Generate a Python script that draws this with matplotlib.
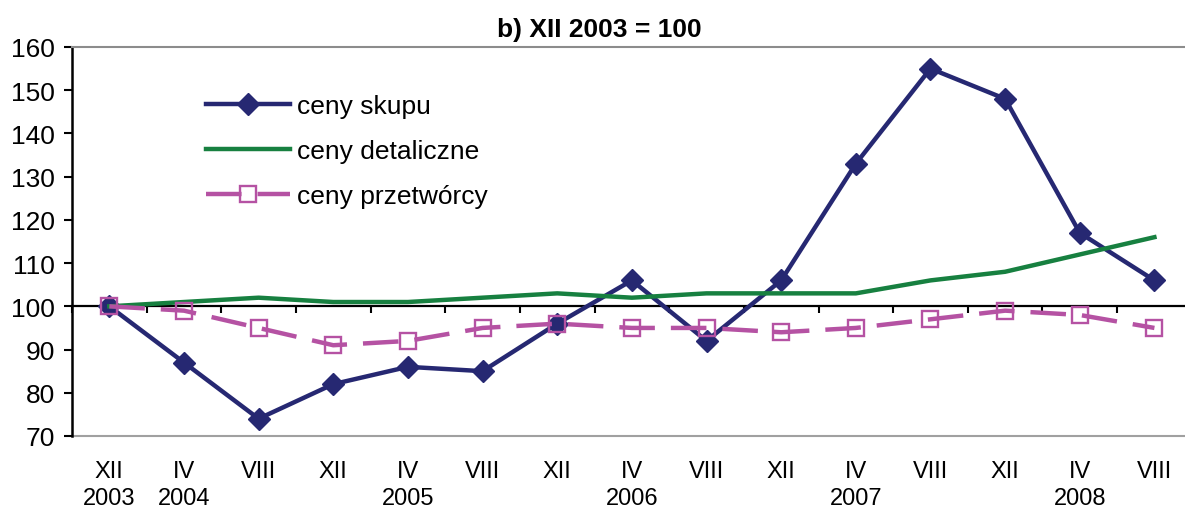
import matplotlib

matplotlib.use("Agg")
import matplotlib.pyplot as plt
import numpy as np

MONTHS = ["XII", "IV", "VIII", "XII", "IV", "VIII", "XII", "IV", "VIII", "XII", "IV", "VIII", "XII", "IV", "VIII"]
YEARS = ["2003", "2004", "", "", "2005", "", "", "2006", "", "", "2007", "", "", "2008", ""]

ceny_skupu = [100, 87, 74, 82, 86, 85, 96, 106, 92, 106, 133, 155, 148, 117, 106]
ceny_detaliczne = [100, 101, 102, 101, 101, 102, 103, 102, 103, 103, 103, 106, 108, 112, 116]
ceny_przetworcy = [100, 99, 95, 91, 92, 95, 96, 95, 95, 94, 95, 97, 99, 98, 95]

NAVY = "#262872"
GREEN = "#178040"
PINK = "#B552A3"
FS = 19

plt.rcParams.update(
    {
        "font.family": ["Liberation Sans", "DejaVu Sans"],
        "font.size": FS,
        "figure.facecolor": "white",
    }
)

fig = plt.figure(figsize=(11.85, 5.1), dpi=100)
ax = fig.add_axes([72 / 1185, 1 - 437 / 510, 1 - 72 / 1185, (437 - 48) / 510])

x = np.arange(len(MONTHS))

ax.plot(x, ceny_skupu, color=NAVY, lw=3.2, marker="D", ms=11, mfc=NAVY, mec=NAVY,
        label="ceny skupu", zorder=3)
ax.plot(x, ceny_detaliczne, color=GREEN, lw=3.2, label="ceny detaliczne", zorder=4)
ax.plot(x, ceny_przetworcy, color=PINK, lw=3.2, ls=(0, (8, 3.6)), marker="s", ms=12,
        mfc="none", mec=PINK, mew=1.7, label="ceny przetwórcy", zorder=5)

ax.set_ylim(70, 160)
ax.set_xlim(-0.5, -0.5 + (1185 - 72) / 74.65)
ax.set_yticks(range(70, 161, 10))
ax.tick_params(axis="y", direction="out", length=5.5, width=1.5, pad=7, labelsize=FS)

# category axis crosses the value axis at 100
ax.spines["bottom"].set_position(("data", 100))
ax.spines["bottom"].set_linewidth(1.6)
ax.spines["bottom"].set_zorder(2)
ax.spines["left"].set_linewidth(1.8)
ax.spines["right"].set_visible(False)
ax.spines["top"].set_color("#8c8c8c")
ax.spines["top"].set_linewidth(1.5)
ax.set_xticks(np.arange(-0.5, len(MONTHS) - 0.5, 1.0))
ax.tick_params(axis="x", direction="out", length=5, width=1.5, labelbottom=False)

# month / year labels below the plot area
sec = ax.secondary_xaxis("bottom")
sec.set_xticks(x, [f"{m}\n{y}" if y else m for m, y in zip(MONTHS, YEARS)])
sec.tick_params(length=0, pad=17, labelsize=17)
sec.spines["bottom"].set_color("#a0a0a0")
sec.spines["bottom"].set_linewidth(1.5)
for t in sec.get_xticklabels():
    t.set_verticalalignment("top")
    t.set_linespacing(1.3)

ax.set_title("b) XII 2003 = 100", fontsize=FS, fontweight="bold", pad=8, x=0.474)

ax.legend(loc="upper left", bbox_to_anchor=(0.099, 0.94), frameon=False,
          handlelength=3.2, handletextpad=0.25, labelspacing=0.8, fontsize=FS)

fig.savefig("out.png", dpi=100)
